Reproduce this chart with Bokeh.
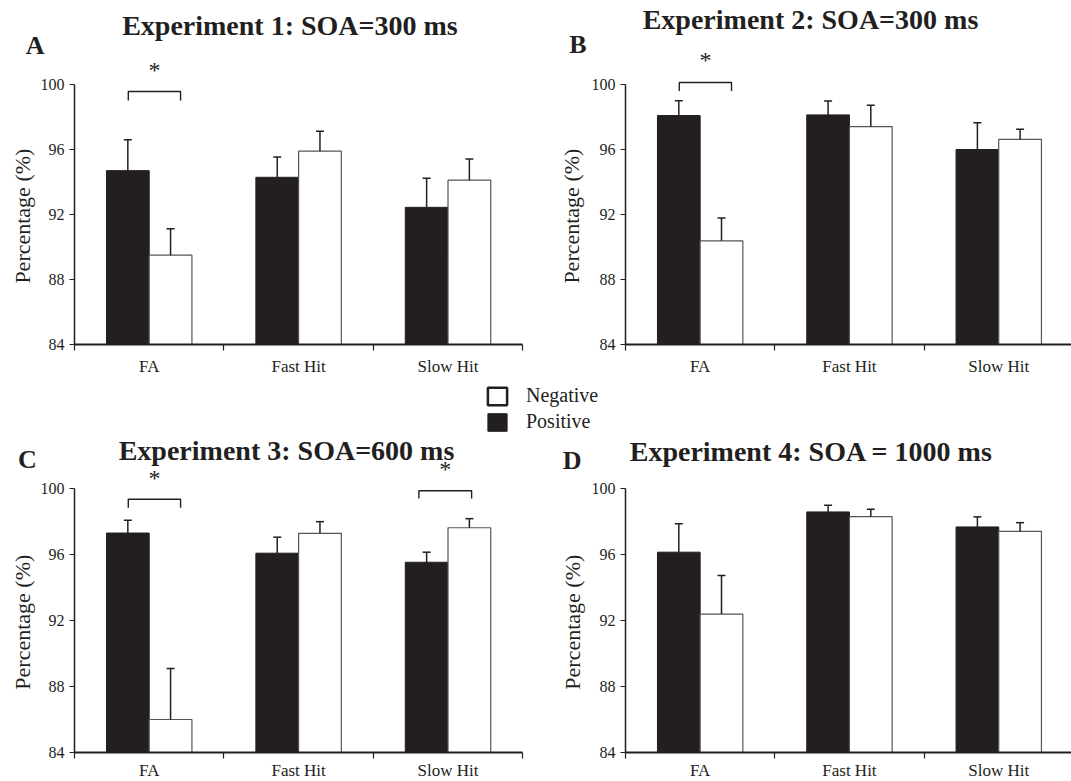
import numpy as np
from bokeh.plotting import figure
from bokeh.models import (ColumnDataSource, FixedTicker, Whisker, TeeHead, Label,
                          Legend, LegendItem, Range1d)
from bokeh.layouts import column, row
from bokeh.transform import dodge
from bokeh.core.properties import value
from bokeh.embed import file_html
from bokeh.resources import INLINE

# ---------------- data ----------------
categories = ["FA", "Fast Hit", "Slow Hit"]
series_names = ["Negative", "Positive"]
y_ticks = [84, 88, 92, 96, 100]
y_label = "Percentage (%)"

panel_letters = ["A", "B", "C", "D"]
panel_titles = ["Experiment 1: SOA=300 ms", "Experiment 2: SOA=300 ms",
                "Experiment 3: SOA=600 ms", "Experiment 4: SOA = 1000 ms"]

exp1_positive = [94.70, 94.29, 92.44]
exp1_positive_se = [1.90, 1.25, 1.79]
exp1_negative = [89.50, 95.90, 94.11]
exp1_negative_se = [1.63, 1.23, 1.30]

exp2_positive = [98.09, 98.13, 96.00]
exp2_positive_se = [0.91, 0.85, 1.64]
exp2_negative = [90.38, 97.41, 96.62]
exp2_negative_se = [1.41, 1.31, 0.63]

exp3_positive = [97.30, 96.08, 95.53]
exp3_positive_se = [0.77, 0.97, 0.61]
exp3_negative = [86.00, 97.28, 97.62]
exp3_negative_se = [3.09, 0.71, 0.55]

exp4_positive = [96.14, 98.58, 97.67]
exp4_positive_se = [1.73, 0.40, 0.61]
exp4_negative = [92.39, 98.29, 97.40]
exp4_negative_se = [2.33, 0.45, 0.53]

# significance markers: category, bracket top, bracket end, star level
exp1_sig_cat = ["FA"];  exp1_sig_top = [99.57]; exp1_sig_end = [99.02]; exp1_sig_star = [100.98]
exp2_sig_cat = ["FA"];  exp2_sig_top = [100.12]; exp2_sig_end = [99.60]; exp2_sig_star = [101.55]
exp3_sig_cat = ["FA", "Slow Hit"]; exp3_sig_top = [99.35, 99.86]; exp3_sig_end = [98.84, 99.39]; exp3_sig_star = [100.71, 101.26]
exp4_sig_cat = []; exp4_sig_top = []; exp4_sig_end = []; exp4_sig_star = []

# ---------------- style / layout ----------------
INK = "#231f20"
FONT = "Liberation Serif, Times New Roman, DejaVu Serif, serif"
BAR_W = 0.286
OFF = 0.143
BRACKET_SPAN = {"FA": (-0.14, 0.21), "Slow Hit": (-0.195, 0.158), "Fast Hit": (-0.14, 0.21)}

panels = [
    dict(pos=exp1_positive, pos_se=exp1_positive_se, neg=exp1_negative, neg_se=exp1_negative_se,
         sig=(exp1_sig_cat, exp1_sig_top, exp1_sig_end, exp1_sig_star),
         width=556, height=381, x_start=-0.4953, x_end=3.2262, y_start=81.723, y_end=105.17,
         title_xy=(1.442, 103.66), letter_xy=(-0.264, 102.40), ylab_x=-0.35, std=6),
    dict(pos=exp2_positive, pos_se=exp2_positive_se, neg=exp2_negative, neg_se=exp2_negative_se,
         sig=(exp2_sig_cat, exp2_sig_top, exp2_sig_end, exp2_sig_star),
         width=515, height=381, x_start=-0.4622, x_end=2.9873, y_start=81.723, y_end=105.17,
         title_xy=(1.239, 104.0), letter_xy=(-0.318, 102.46), ylab_x=-0.365, std=6),
    dict(pos=exp3_positive, pos_se=exp3_positive_se, neg=exp3_negative, neg_se=exp3_negative_se,
         sig=(exp3_sig_cat, exp3_sig_top, exp3_sig_end, exp3_sig_star),
         width=556, height=348, x_start=-0.4953, x_end=3.2262, y_start=82.242, y_end=103.333,
         title_xy=(1.419, 102.30), letter_xy=(-0.3146, 101.76), ylab_x=-0.35, std=3),
    dict(pos=exp4_positive, pos_se=exp4_positive_se, neg=exp4_negative, neg_se=exp4_negative_se,
         sig=(exp4_sig_cat, exp4_sig_top, exp4_sig_end, exp4_sig_star),
         width=515, height=348, x_start=-0.4622, x_end=2.9873, y_start=82.242, y_end=103.333,
         title_xy=(1.246, 102.24), letter_xy=(-0.358, 101.70), ylab_x=-0.355, std=3),
]


def panel_source(cfg):
    xc = np.arange(len(categories)) + 0.5
    pos = np.array(cfg["pos"]); neg = np.array(cfg["neg"])
    return ColumnDataSource(dict(x=xc, cat=categories, pos=pos, neg=neg,
                                 pos_hi=pos + np.array(cfg["pos_se"]),
                                 neg_hi=neg + np.array(cfg["neg_se"])))


def make_panel(cfg, title, letter):
    p = figure(width=cfg["width"], height=cfg["height"], output_backend="svg",
               toolbar_location=None, x_range=Range1d(cfg["x_start"], cfg["x_end"]),
               y_range=Range1d(cfg["y_start"], cfg["y_end"]),
               min_border_left=0, min_border_right=0,
               min_border_top=0, min_border_bottom=0)
    p.outline_line_color = None
    p.grid.visible = False
    p.background_fill_color = "white"

    src = panel_source(cfg)

    p.vbar(x=dodge("x", -OFF), top="pos", bottom=84, width=BAR_W, source=src,
           fill_color=INK, line_color=INK, line_width=1)
    p.vbar(x=dodge("x", OFF), top="neg", bottom=84, width=BAR_W, source=src,
           fill_color="white", line_color="#555555", line_width=1.2)

    for base_off, lo, hi in [(-OFF, "pos", "pos_hi"), (OFF, "neg", "neg_hi")]:
        w = Whisker(source=src, base=dodge("x", base_off), lower=lo, upper=hi,
                    lower_head=None,
                    upper_head=TeeHead(size=8, line_color=INK, line_width=1.5),
                    line_color=INK, line_width=1.5, level="annotation")
        p.add_layout(w)

    # significance brackets & stars
    cats, tops, ends, stars = cfg["sig"]
    if cats:
        xs, ys, sx = [], [], []
        for c, t, e in zip(cats, tops, ends):
            i = categories.index(c) + 0.5
            l, r = BRACKET_SPAN[c]
            xs.append([i + l, i + l, i + r, i + r])
            ys.append([e, t, t, e])
            sx.append(i + (l + r) / 2)
        p.multi_line(xs=xs, ys=ys, line_color=INK, line_width=1.4)
        star_src = ColumnDataSource(dict(x=sx, y=stars, t=["*"] * len(sx)))
        p.text(x="x", y="y", text="t", source=star_src, text_align="center",
               text_baseline="middle", text_font=value(FONT), text_font_size="24px",
               text_color=INK, y_offset=1)

    # y axis fixed at the left edge of the first category
    ya = p.yaxis[0]
    ya.fixed_location = 0
    ya.bounds = (84, 100)
    ya.ticker = FixedTicker(ticks=y_ticks, minor_ticks=[])
    ya.major_label_text_font = FONT
    ya.major_label_text_font_size = "16px"
    ya.major_label_text_color = INK
    ya.major_label_standoff = 5
    ya.major_tick_out = 5
    ya.major_tick_in = 0
    ya.minor_tick_out = 0
    ya.minor_tick_in = 0
    ya.axis_line_color = INK
    ya.axis_line_width = 1.5
    ya.major_tick_line_color = INK
    ya.major_tick_line_width = 1.2

    # x axis fixed at the baseline (84 %)
    xa = p.xaxis[0]
    xa.fixed_location = 84
    xa.bounds = (0, 3)
    xa.ticker = FixedTicker(ticks=list(np.arange(len(categories)) + 0.5),
                            minor_ticks=list(range(len(categories) + 1)))
    xa.major_label_overrides = {float(i) + 0.5: c for i, c in enumerate(categories)}
    xa.major_label_text_font = FONT
    xa.major_label_text_font_size = "17px"
    xa.major_label_text_color = INK
    xa.major_label_standoff = cfg["std"]
    xa.major_tick_out = 0
    xa.major_tick_in = 0
    xa.minor_tick_out = 6
    xa.minor_tick_in = 0
    xa.minor_tick_line_color = INK
    xa.minor_tick_line_width = 1.2
    xa.axis_line_color = INK
    xa.axis_line_width = 2

    # y-axis title (rotated), panel title and panel letter
    p.add_layout(Label(x=cfg["ylab_x"], y=91.9, text=y_label, angle=90, angle_units="deg",
                       text_align="center", text_baseline="middle", text_font=FONT,
                       text_font_size="22px", text_color=INK))
    tx, ty = cfg["title_xy"]
    p.add_layout(Label(x=tx, y=ty, text=title, text_align="center", text_baseline="middle",
                       text_font=FONT, text_font_style="bold", text_font_size="28px",
                       text_color=INK))
    lx, ly = cfg["letter_xy"]
    p.add_layout(Label(x=lx, y=ly, text=letter, text_align="center", text_baseline="middle",
                       text_font=FONT, text_font_style="bold", text_font_size="26px",
                       text_color=INK))
    return p


figs = [make_panel(cfg, t, l) for cfg, t, l in zip(panels, panel_titles, panel_letters)]

# legend strip: legend-only renderers (no drawable points), only the legend shows
leg = figure(width=1071, height=52, output_backend="svg", toolbar_location=None,
             x_range=Range1d(0, 1), y_range=Range1d(0, 1),
             x_axis_location=None, y_axis_location=None, min_border=0)
leg.outline_line_color = None
leg.grid.visible = False
leg_src = ColumnDataSource(dict(x=[np.nan], top=[np.nan]))
r_neg = leg.vbar(x="x", top="top", bottom=0, width=0.1, source=leg_src,
                 fill_color="white", line_color=INK, line_width=2.5)
r_pos = leg.vbar(x="x", top="top", bottom=0, width=0.1, source=leg_src,
                 fill_color=INK, line_color=INK, line_width=1)
legend = Legend(items=[LegendItem(label=series_names[0], renderers=[r_neg]),
                       LegendItem(label=series_names[1], renderers=[r_pos])],
                location=(485, 0), padding=0, spacing=3, glyph_width=24, glyph_height=22,
                label_height=22, label_standoff=17, border_line_color=None,
                background_fill_alpha=0, label_text_font=FONT,
                label_text_font_size="20px", label_text_color=INK, margin=0)
leg.add_layout(legend)

layout = column(row(figs[0], figs[1]), leg, row(figs[2], figs[3]))
open("out.html", "w").write(file_html(layout, INLINE))
